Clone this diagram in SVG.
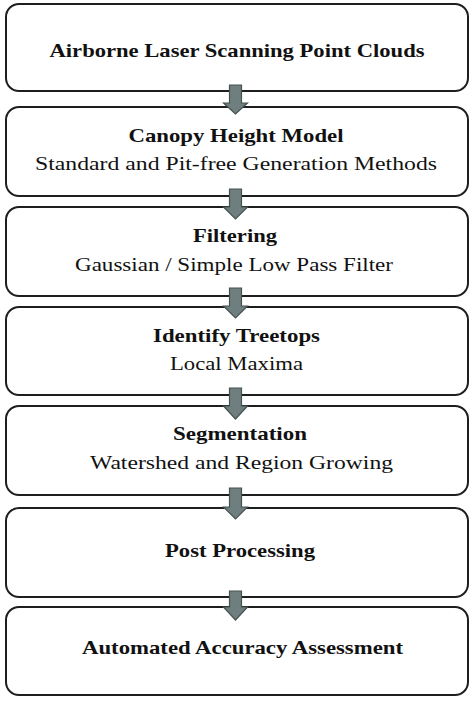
<svg xmlns="http://www.w3.org/2000/svg" width="474" height="702" viewBox="0 0 474 702">
<style>
.box{fill:#fff;stroke:#1e1e1e;stroke-width:2}
.t{font-family:"Liberation Serif","DejaVu Serif",serif;font-size:19.5px;font-weight:bold;fill:#111;text-anchor:middle}
.s{font-family:"Liberation Serif","DejaVu Serif",serif;font-size:19.5px;fill:#111;text-anchor:middle}
.arr{fill:#6f7e7e;stroke:#465252;stroke-width:1.2;stroke-linejoin:miter}
</style>
<rect x="0" y="0" width="474" height="702" fill="#fff"/>
<g id="n1"><rect class="box" x="6" y="4" width="462" height="87" rx="13"/><text class="t" x="237" y="57" textLength="375" lengthAdjust="spacingAndGlyphs">Airborne Laser Scanning Point Clouds</text></g>
<g id="n2"><rect class="box" x="6" y="107" width="462" height="89" rx="13"/><text class="t" x="236" y="142" textLength="215" lengthAdjust="spacingAndGlyphs">Canopy Height Model</text><text class="s" x="236" y="170" textLength="402" lengthAdjust="spacingAndGlyphs">Standard and Pit-free Generation Methods</text></g>
<g id="n3"><rect class="box" x="6" y="207" width="462" height="89" rx="13"/><text class="t" x="235" y="242" textLength="84" lengthAdjust="spacingAndGlyphs">Filtering</text><text class="s" x="234" y="271" textLength="318" lengthAdjust="spacingAndGlyphs">Gaussian / Simple Low Pass Filter</text></g>
<g id="n4"><rect class="box" x="6" y="307" width="462" height="88" rx="13"/><text class="t" x="236.5" y="342" textLength="167" lengthAdjust="spacingAndGlyphs">Identify Treetops</text><text class="s" x="236.5" y="370" textLength="133" lengthAdjust="spacingAndGlyphs">Local Maxima</text></g>
<g id="n5"><rect class="box" x="6" y="406" width="462" height="89" rx="13"/><text class="t" x="240" y="440" textLength="134" lengthAdjust="spacingAndGlyphs">Segmentation</text><text class="s" x="241.5" y="469" textLength="303" lengthAdjust="spacingAndGlyphs">Watershed and Region Growing</text></g>
<g id="n6"><rect class="box" x="6" y="508" width="462" height="89" rx="13"/><text class="t" x="240" y="557" textLength="150" lengthAdjust="spacingAndGlyphs">Post Processing</text></g>
<g id="n7"><rect class="box" x="6" y="607" width="462" height="88" rx="13"/><text class="t" x="242.5" y="654" textLength="321" lengthAdjust="spacingAndGlyphs">Automated Accuracy Assessment</text></g>
<g id="connectors">
<path class="arr" d="M229.5 85 H241.5 V103 H247.5 L235.5 114 L223.5 103 H229.5 Z"/>
<path class="arr" d="M229.5 189 H241.5 V207 H247.5 L235.5 219 L223.5 207 H229.5 Z"/>
<path class="arr" d="M229.5 288 H241.5 V306 H247.5 L235.5 318 L223.5 306 H229.5 Z"/>
<path class="arr" d="M229.5 388 H241.5 V406 H247.5 L235.5 419 L223.5 406 H229.5 Z"/>
<path class="arr" d="M229.5 488 H241.5 V507 H247.5 L235.5 519 L223.5 507 H229.5 Z"/>
<path class="arr" d="M229.5 591 H241.5 V607 H247.5 L235.5 620 L223.5 607 H229.5 Z"/>
</g>
</svg>
